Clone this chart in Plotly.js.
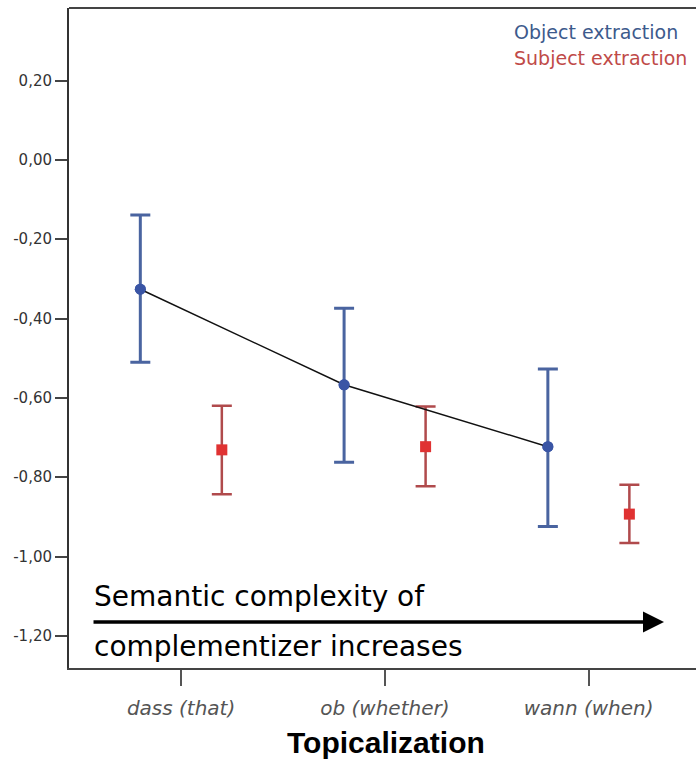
<!DOCTYPE html>
<html>
<head>
<meta charset="utf-8">
<script src="https://cdn.plot.ly/plotly-3.0.1.min.js"></script>
<style>html,body{margin:0;padding:0;background:#fff;}#chart{width:696px;height:762px;}</style>
</head>
<body>
<div id="chart"></div>
<script>
// ---- data ----
const categories = ["dass (that)", "ob (whether)", "wann (when)"];
const seriesNames = ["Object extraction", "Subject extraction"];
const objMean = [-0.326, -0.567, -0.723];
const objHigh = [-0.139, -0.374, -0.527];
const objLow  = [-0.510, -0.762, -0.924];
const subjMean = [-0.731, -0.723, -0.893];
const subjHigh = [-0.620, -0.622, -0.819];
const subjLow  = [-0.843, -0.823, -0.966];
const yTickVals = [0.2, 0.0, -0.2, -0.4, -0.6, -0.8, -1.0, -1.2];
const yTickText = ["0,20", "0,00", "-0,20", "-0,40", "-0,60", "-0,80", "-1,00", "-1,20"];
const xTitle = "Topicalization";
const noteLine1 = "Semantic complexity of";
const noteLine2 = "complementizer increases";

// ---- build ----
const idx = categories.map((c, i) => i);
const off = 0.2;
const objX = idx.map(i => i - off);
const subjX = idx.map(i => i + off);

const subj = {
  x: subjX, y: subjMean, type: "scatter", mode: "markers", name: seriesNames[1],
  marker: {symbol: "square", size: 11, color: "#e03232"},
  error_y: {type: "data", symmetric: false,
    array: subjHigh.map((v, i) => v - subjMean[i]),
    arrayminus: subjLow.map((v, i) => subjMean[i] - v),
    color: "#b04a4c", thickness: 2.5, width: 10},
  hoverinfo: "skip"
};
const objBars = {
  x: objX, y: objMean, type: "scatter", mode: "markers", name: seriesNames[0],
  marker: {symbol: "circle", size: 11, color: "#3a55a5"},
  error_y: {type: "data", symmetric: false,
    array: objHigh.map((v, i) => v - objMean[i]),
    arrayminus: objMean.map((v, i) => v - objLow[i]),
    color: "#4a64a0", thickness: 3, width: 10},
  hoverinfo: "skip"
};
const objLine = {
  x: objX, y: objMean, type: "scatter", mode: "lines", showlegend: false,
  line: {color: "#111", width: 1.5}, hoverinfo: "skip"
};
const objMarkers = {
  x: objX, y: objMean, type: "scatter", mode: "markers", showlegend: false,
  marker: {symbol: "circle", size: 11, color: "#3a55a5"}, hoverinfo: "skip"
};

const layout = {
  width: 696, height: 762,
  margin: {l: 69, r: 0, t: 8, b: 94},
  paper_bgcolor: "#fff", plot_bgcolor: "#fff",
  showlegend: false,
  xaxis: {
    range: [-0.55, 2.527], tickmode: "array", tickvals: idx, ticktext: categories,
    showgrid: false, zeroline: false, showline: true, linecolor: "#444", linewidth: 2,
    ticks: "outside", ticklen: 16, tickwidth: 2, tickcolor: "#555",
    ticklabelstandoff: 5,
    tickfont: {family: "DejaVu Sans", size: 20, color: "#555", style: "italic"},
    fixedrange: true
  },
  yaxis: {
    range: [-1.281, 0.383], tickmode: "array", tickvals: yTickVals, ticktext: yTickText,
    showgrid: false, zeroline: false, showline: true, linecolor: "#333", linewidth: 2,
    ticks: "outside", ticklen: 12, tickwidth: 2, tickcolor: "#444",
    tickfont: {family: "DejaVu Sans", size: 15, color: "#333"},
    fixedrange: true
  },
  shapes: [
    {type: "line", xref: "paper", yref: "paper", x0: 0, x1: 1, y0: 1, y1: 1,
     line: {color: "#444", width: 2}}
  ],
  annotations: [
    {text: seriesNames[0], xref: "paper", yref: "paper", x: 0.7065, y: 0.9636,
     xanchor: "left", yanchor: "middle", showarrow: false,
     font: {family: "DejaVu Sans", size: 19, color: "#3d5a8c"}},
    {text: seriesNames[1], xref: "paper", yref: "paper", x: 0.7065, y: 0.924,
     xanchor: "left", yanchor: "middle", showarrow: false,
     font: {family: "DejaVu Sans", size: 19, color: "#c04a48"}},
    {text: noteLine1, xref: "paper", yref: "paper", x: 0.0367, y: 0.1076,
     xanchor: "left", yanchor: "middle", showarrow: false,
     font: {family: "DejaVu Sans", size: 28, color: "#000"}},
    {text: noteLine2, xref: "paper", yref: "paper", x: 0.0367, y: 0.0333,
     xanchor: "left", yanchor: "middle", showarrow: false,
     font: {family: "DejaVu Sans", size: 28, color: "#000"}},
    {text: "", xref: "paper", yref: "paper", x: 0.949, y: 0.0697,
     axref: "paper", ayref: "paper", ax: 0.0367, ay: 0.0697,
     showarrow: true, arrowhead: 2, arrowsize: 1.2, arrowwidth: 3.5, arrowcolor: "#000"},
    {text: "<b>" + xTitle + "</b>", xref: "paper", yref: "paper", x: 0.505, y: -0.113,
     xanchor: "center", yanchor: "middle", showarrow: false,
     font: {family: "Liberation Sans", size: 30, color: "#000"}}
  ]
};

Plotly.newPlot("chart", [subj, objBars, objLine, objMarkers], layout, {displayModeBar: false, staticPlot: true});
</script>
</body>
</html>
